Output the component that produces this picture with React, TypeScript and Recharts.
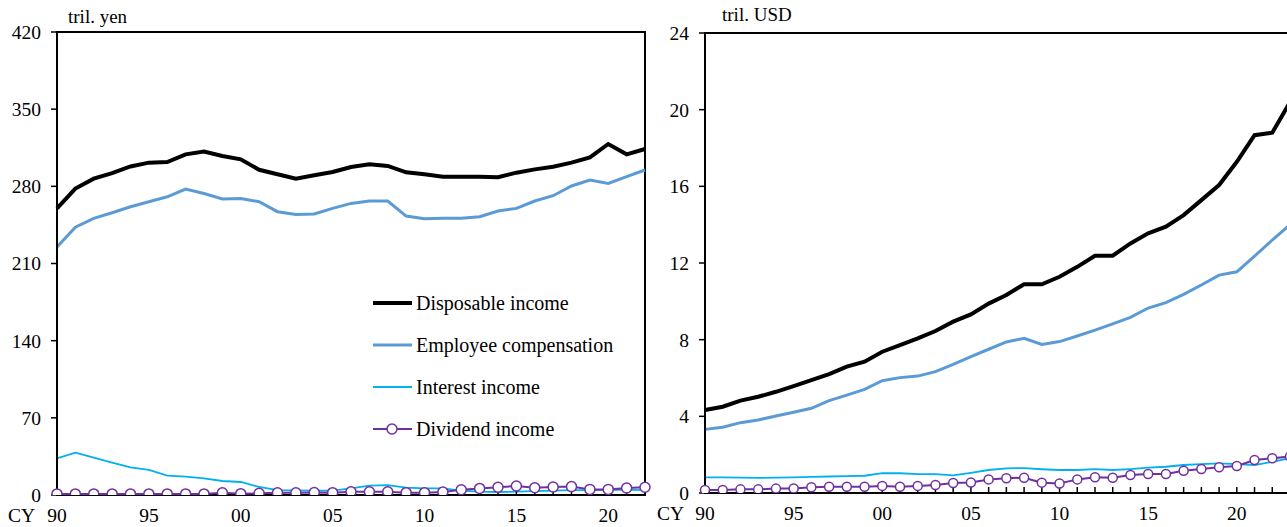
import React from "react";
import {
  LineChart,
  Line,
  XAxis,
  YAxis,
  ReferenceArea,
  Legend,
} from "recharts";

const FONT = '"Liberation Serif", "Times New Roman", serif';

// years shown on each panel
const jpYears = Array.from({ length: 33 }, (_, i) => 1990 + i);
const usYears = Array.from({ length: 34 }, (_, i) => 1990 + i);

// Japan, tril. yen (CY1990-2022)
const jpDisposable = [
  260, 278, 287, 292, 298, 301.5, 302, 309, 311.5, 307.5,
  304.5, 295, 291, 287, 290, 293, 297.5, 300, 298.5, 292.7,
  291, 288.8, 288.8, 288.8, 288.2, 292.4, 295.4, 297.8, 301.5, 306.3,
  318.4, 309, 313.9,
];
const jpEmployee = [
  225, 243, 251, 256, 261.5, 266, 270.5, 277.5, 273.5, 268.5,
  269, 266, 257, 254.5, 255, 260, 264.5, 266.7, 266.7, 253,
  250.7, 251, 251, 252.5, 257.6, 260, 266.7, 271.5, 280.3, 285.7,
  282.7, 288.8, 294.8,
];
const jpInterest = [
  33.3, 38.4, 33.8, 29.3, 25.1, 22.7, 17.5, 16.6, 15.1, 12.7,
  11.8, 7.3, 4.5, 4.2, 3.9, 3.9, 6.0, 8.5, 9, 6.6,
  6, 6, 3.9, 3, 2.7, 3, 3.6, 3.9, 4.5, 4.5,
  4.5, 4.8, 4.5,
];
const jpDividend = [
  1, 1, 1, 1, 1, 1, 1, 1, 1, 2,
  1.2, 1.5, 2, 2, 2.2, 2.1, 3, 3, 3, 2.1,
  2.1, 2.7, 4.8, 6, 7, 8.2, 6.6, 7.3, 7.6, 5.1,
  5.1, 6.3, 7,
];

// US, tril. USD (CY1990-2023)
const usDisposable = [
  4.33, 4.5, 4.82, 5.02, 5.28, 5.58, 5.89, 6.2, 6.59, 6.85,
  7.37, 7.72, 8.07, 8.45, 8.94, 9.32, 9.88, 10.33, 10.89, 10.89,
  11.28, 11.8, 12.38, 12.38, 13.02, 13.55, 13.9, 14.5, 15.28, 16.07,
  17.28, 18.67, 18.8, 20.4,
];
const usEmployee = [
  3.32, 3.43, 3.67, 3.81, 4.02, 4.21, 4.42, 4.82, 5.11, 5.41,
  5.86, 6.02, 6.1, 6.33, 6.71, 7.11, 7.5, 7.88, 8.07, 7.75,
  7.9, 8.19, 8.5, 8.82, 9.16, 9.65, 9.93, 10.36, 10.85, 11.37,
  11.54, 12.36, 13.2, 14.0,
];
const usInterest = [
  0.82, 0.81, 0.8, 0.79, 0.8, 0.82, 0.84, 0.86, 0.88, 0.9,
  1.04, 1.03, 0.98, 0.98, 0.92, 1.05, 1.2, 1.29, 1.3, 1.24,
  1.2, 1.2, 1.25, 1.2, 1.25, 1.32, 1.37, 1.46, 1.51, 1.55,
  1.51, 1.46, 1.63, 1.81,
];
const usDividend = [
  0.16, 0.16, 0.19, 0.19, 0.23, 0.24, 0.3, 0.33, 0.33, 0.33,
  0.37, 0.33, 0.37, 0.42, 0.52, 0.55, 0.71, 0.77, 0.8, 0.54,
  0.5, 0.71, 0.82, 0.8, 0.94, 0.99, 0.99, 1.16, 1.25, 1.34,
  1.41, 1.72, 1.81, 1.9,
];

const jpTicks = [0, 70, 140, 210, 280, 350, 420];
const usTicks = [0, 4, 8, 12, 16, 20, 24];

const SERIES = [
  { key: "interest", name: "Interest income", color: "#00b0f0", width: 1.8 },
  { key: "employee", name: "Employee compensation", color: "#5b9bd5", width: 3 },
  { key: "disposable", name: "Disposable income", color: "#000000", width: 4 },
  { key: "dividend", name: "Dividend income", color: "#7030a0", width: 2 },
];
const LEGEND_ORDER = ["disposable", "employee", "interest", "dividend"];

const jpData = jpYears.map((year, i) => ({
  year,
  disposable: jpDisposable[i],
  employee: jpEmployee[i],
  interest: jpInterest[i],
  dividend: jpDividend[i],
}));

const usData = usYears.map((year, i) => ({
  year,
  disposable: usDisposable[i],
  employee: usEmployee[i],
  interest: usInterest[i],
  dividend: usDividend[i],
}));

const YearTick = (props: any) => {
  const { x, y, payload } = props;
  const yr = payload.value as number;
  return (
    <g>
      <line x1={x} x2={x} y1={y} y2={y - 6} stroke="#000" strokeWidth={1.5} />
      {yr % 5 === 0 && (
        <text
          x={x}
          y={y + 27}
          textAnchor="middle"
          fontSize={19.5}
          fontFamily={FONT}
          fill="#000"
        >
          {String(yr % 100).padStart(2, "0")}
        </text>
      )}
    </g>
  );
};

const LegendBox = () => (
  <div style={{ fontFamily: FONT, fontSize: 20, color: "#000" }}>
    {LEGEND_ORDER.map((k) => {
      const s = SERIES.find((d) => d.key === k)!;
      return (
        <div
          key={k}
          style={{ display: "flex", alignItems: "center", height: 42 }}
        >
          <svg width={42} height={16} style={{ marginRight: 2 }}>
            <line x1={1} x2={40} y1={8} y2={8} stroke={s.color} strokeWidth={s.width} />
            {k === "dividend" && (
              <circle cx={20} cy={8} r={5} fill="#fff" stroke={s.color} strokeWidth={1.5} />
            )}
          </svg>
          <span>{s.name}</span>
        </div>
      );
    })}
  </div>
);

const renderLine = (s: (typeof SERIES)[number], r: number) => (
  <Line
    key={s.key}
    type="linear"
    dataKey={s.key}
    name={s.name}
    stroke={s.color}
    strokeWidth={s.width}
    dot={
      s.key === "dividend"
        ? { r, fill: "#fff", stroke: s.color, strokeWidth: 1.5 }
        : false
    }
    activeDot={false}
    isAnimationActive={false}
  />
);

const tickStyle = { fontSize: 19.5, fontFamily: FONT, fill: "#000" };

// axes + three lines underneath; the dividend line goes in a second chart
// on top so its white circles cover the x-axis tick marks
function Panel(props: {
  data: any[];
  years: number[];
  yTicks: number[];
  yMax: number;
  top: number;
  right: number;
  xHeight: number;
  dotR: number;
  legend?: boolean;
}) {
  const { data, years, yTicks, yMax, top, right, xHeight, dotR, legend } = props;
  const first = years[0];
  const last = years[years.length - 1];
  return (
    <>
      <div style={{ position: "absolute", left: 0, top: 0 }}>
        <LineChart
          width={660}
          height={527}
          data={data}
          margin={{ top, right, bottom: 0, left: 0 }}
        >
          <ReferenceArea
            x1={first}
            x2={last}
            y1={0}
            y2={yMax}
            fill="none"
            stroke="#000"
            strokeWidth={2}
            ifOverflow="visible"
          />
          <XAxis
            dataKey="year"
            type="number"
            domain={[first, last]}
            ticks={years}
            interval={0}
            tickSize={0}
            tickMargin={0}
            tick={<YearTick />}
            height={xHeight}
            axisLine={{ stroke: "#000", strokeWidth: 2 }}
          />
          <YAxis
            type="number"
            domain={[0, yMax]}
            allowDataOverflow
            ticks={yTicks}
            interval={0}
            width={57}
            tickSize={6}
            tickMargin={10}
            tick={tickStyle}
            tickLine={{ stroke: "#000", strokeWidth: 1.5 }}
            axisLine={{ stroke: "#000", strokeWidth: 2 }}
          />
          {SERIES.filter((s) => s.key !== "dividend").map((s) => renderLine(s, dotR))}
          {legend && (
            <Legend
              layout="vertical"
              align="center"
              verticalAlign="middle"
              content={<LegendBox />}
              wrapperStyle={{ left: 372, top: 282, width: 270 }}
            />
          )}
        </LineChart>
      </div>
      <div style={{ position: "absolute", left: 0, top: 0 }}>
        <LineChart
          width={660}
          height={527}
          data={data}
          margin={{ top, right, bottom: xHeight, left: 57 }}
        >
          <XAxis dataKey="year" type="number" domain={[first, last]} hide />
          <YAxis type="number" domain={[0, yMax]} allowDataOverflow hide />
          {SERIES.filter((s) => s.key === "dividend").map((s) => renderLine(s, dotR))}
        </LineChart>
      </div>
    </>
  );
}

export default function App() {
  return (
    <div
      style={{
        position: "absolute",
        left: 0,
        top: 0,
        width: 1287,
        height: 527,
        overflow: "hidden",
        background: "#fff",
      }}
    >
      <div style={{ position: "absolute", left: 0, top: 0, width: 660, height: 527 }}>
        <Panel
          data={jpData}
          years={jpYears}
          yTicks={jpTicks}
          yMax={420}
          top={32}
          right={15}
          xHeight={32}
          dotR={5}
          legend
        />
      </div>
      <div style={{ position: "absolute", left: 648, top: 0, width: 660, height: 527 }}>
        <Panel
          data={usData}
          years={usYears}
          yTicks={usTicks}
          yMax={24}
          top={33}
          right={18}
          xHeight={34}
          dotR={4.5}
        />
      </div>

      <svg
        width={1287}
        height={527}
        style={{ position: "absolute", left: 0, top: 0, pointerEvents: "none" }}
        fontFamily={FONT}
        fontSize={19.5}
      >
        <text x={68} y={23} fontSize={19}>tril. yen</text>
        <text x={722} y={21} fontSize={19}>tril. USD</text>
        <text x={8} y={522}>CY</text>
        <text x={657} y={520}>CY</text>
      </svg>
    </div>
  );
}
